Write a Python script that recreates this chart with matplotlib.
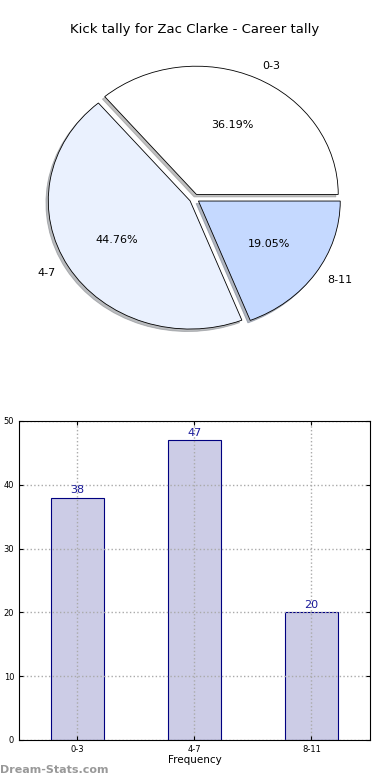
import matplotlib
matplotlib.use("Agg")
import matplotlib.pyplot as plt

# kick tally bins and counts
categories = ["0-3", "4-7", "8-11"]
counts = [38, 47, 20]
pie_colors = ["#FFFFFF", "#EAF1FE", "#C5D9FF"]
title = "Kick tally for Zac Clarke - Career tally"

fig = plt.figure(figsize=(3.9, 7.8), dpi=100)

# top: pie chart (stretched, like the old renderer)
ax1 = fig.add_axes([0.0438, 0.54, 0.909, 0.411])
ax1.pie(counts, labels=categories, colors=pie_colors, autopct="%.2f%%",
        explode=[0.035] * len(counts),
        shadow=dict(ox=-0.012, oy=-0.014, shade=0.5),
        wedgeprops=dict(edgecolor="black", linewidth=0.6),
        textprops=dict(fontsize=8))
ax1.set_aspect("auto")
ax1.set_xlim(-1.25, 1.25)
ax1.set_ylim(-1.25, 1.25)
ax1.axis("off")
fig.text(0.5, 1 - 30 / 780, title, ha="center", va="center", fontsize=9.5)

# bottom: bar chart
ax2 = fig.add_axes([0.0487, 0.0513, 0.9, 0.409])
x = range(len(categories))
bars = ax2.bar(x, counts, width=0.45, color="#CCCCE6", edgecolor="navy", linewidth=0.8)
for b, c in zip(bars, counts):
    ax2.text(b.get_x() + b.get_width() / 2, c + 0.4, str(c), ha="center", va="bottom",
             color="#1a1a9a", fontsize=8)
ax2.set_xlim(-0.5, 2.5)
ax2.set_ylim(0, 50)
ax2.set_xticks(list(x))
ax2.set_xticklabels(categories)
ax2.tick_params(labelsize=6, direction="in", length=3, top=True, right=True)
ax2.grid(True, linestyle=":", color="#aaaaaa", linewidth=1)
ax2.set_xlabel("Frequency", fontsize=7.5, labelpad=1)

fig.text(0.0, 1 - 770 / 780, "Dream-Stats.com", fontsize=8, color="#999999",
         fontweight="bold", ha="left", va="center")

fig.savefig("out.png", dpi=100)
